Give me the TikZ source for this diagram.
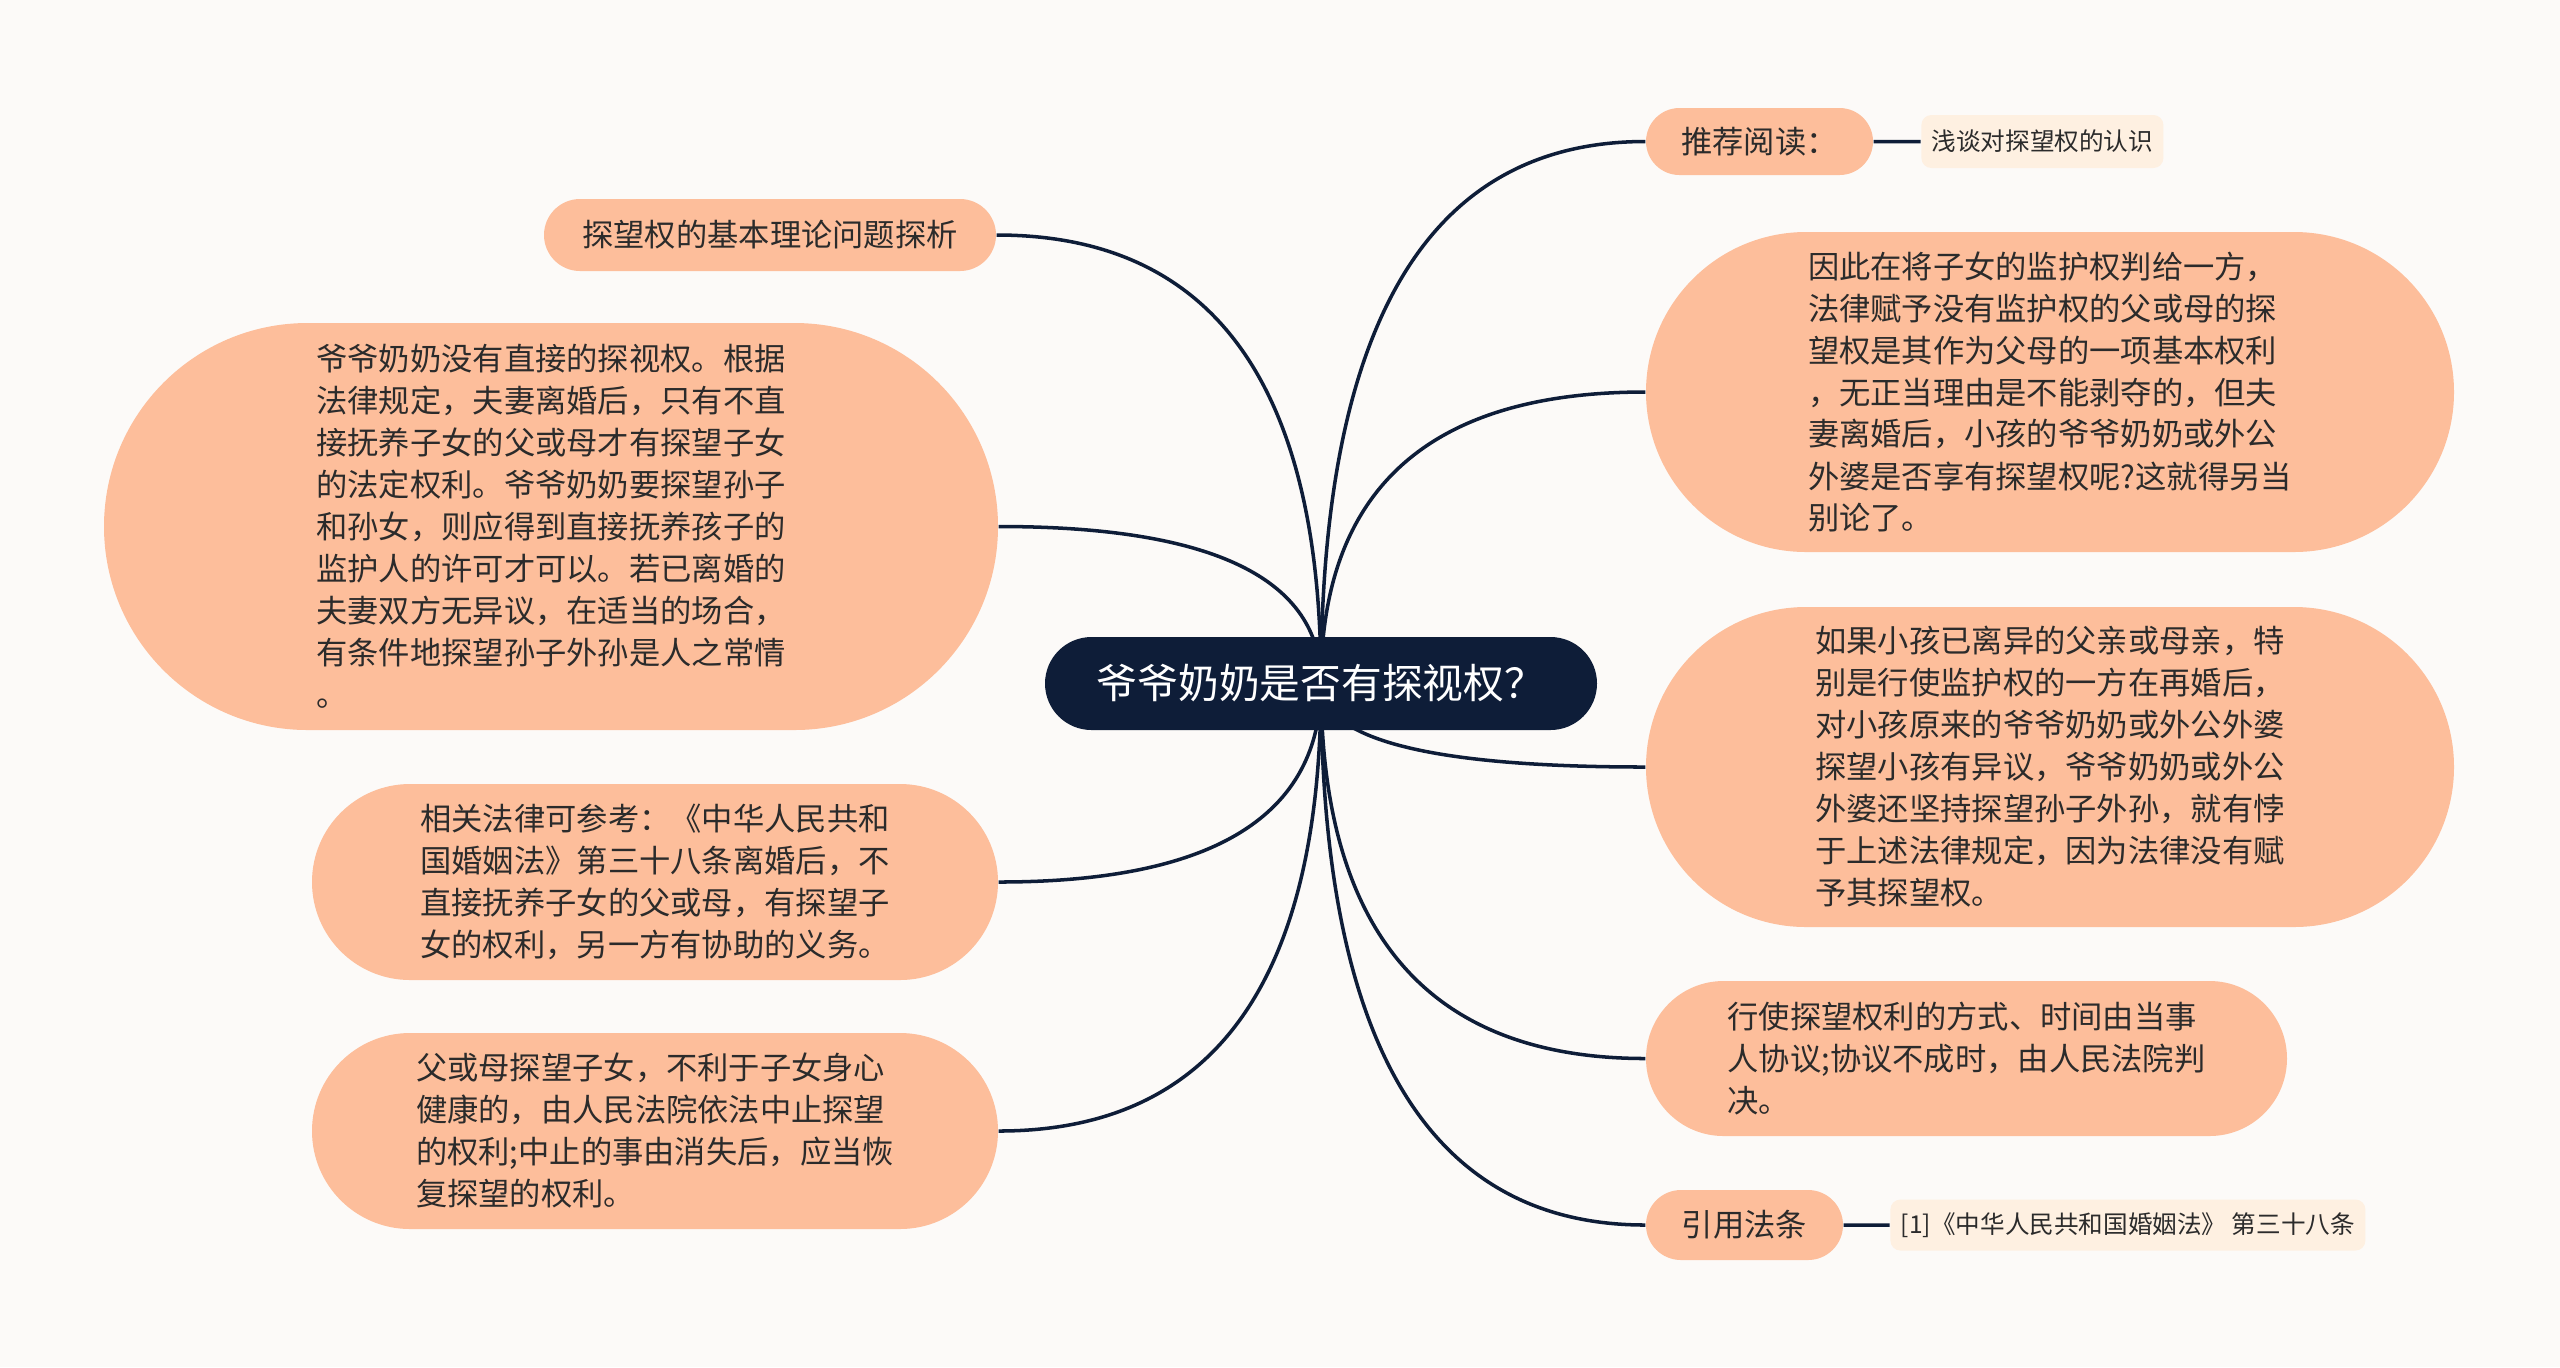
\documentclass[tikz,border=0pt]{standalone}
\usepackage{fontspec}
\usepackage{xcolor}
\usepackage{tikz}
\usetikzlibrary{positioning}
\usetikzlibrary{shapes.misc}
\usetikzlibrary{backgrounds}
\usetikzlibrary{calc}
\newfontfamily\cjk{Noto Sans CJK SC}
\definecolor{peach}{HTML}{FDBE9B}
\definecolor{cream}{HTML}{FEF0E1}
\definecolor{navy}{HTML}{0E1D38}
\definecolor{ink}{HTML}{2B2B2B}
\definecolor{paper}{HTML}{FCFAF8}
\tikzset{
    rootbox/.style={ % Central topic
        rounded rectangle,
        fill=navy,
        text=white,
        inner sep=0pt,
        font=\cjk\fontsize{11.6}{14}\selectfont
    },
    topicbox/.style={ % Sets the properties for each branch topic
        rounded rectangle,
        fill=peach,
        text=ink,
        align=left,
        inner sep=0pt,
        font=\cjk\fontsize{8.9}{11.95}\selectfont
    },
    leafbox/.style={ % Small notes hanging off a topic
        rectangle,
        rounded corners=0.1cm,
        fill=cream,
        text=ink,
        inner sep=0pt,
        font=\cjk\fontsize{7}{9}\selectfont
    },
    branch/.style={ % Connectors
        draw=navy,
        line width=1pt
    }
}
\begin{document}
\begin{tikzpicture}
    \useasboundingbox (0,0) rectangle (25.6,-13.67);

    \node[rootbox, minimum width=5.52cm, minimum height=0.93cm] (c0) at (13.21,-6.835) {爷爷奶奶是否有探视权？};

    % right side
    \node[topicbox, minimum width=2.27cm, minimum height=0.67cm] (r1) at (17.595,-1.415) {推荐阅读：};
    \node[leafbox, minimum width=2.42cm, minimum height=0.53cm, right=0.47cm of r1] (t1) {浅谈对探望权的认识};
    \node[topicbox, minimum width=8.08cm, minimum height=3.2cm] (r2) at (20.5,-3.92) {因此在将子女的监护权判给一方，\\法律赋予没有监护权的父或母的探\\望权是其作为父母的一项基本权利\\，无正当理由是不能剥夺的，但夫\\妻离婚后，小孩的爷爷奶奶或外公\\外婆是否享有探望权呢?这就得另当\\别论了。};
    \node[topicbox, minimum width=8.08cm, minimum height=3.2cm] (r3) at (20.5,-7.67) {如果小孩已离异的父亲或母亲，特\\别是行使监护权的一方在再婚后，\\对小孩原来的爷爷奶奶或外公外婆\\探望小孩有异议，爷爷奶奶或外公\\外婆还坚持探望孙子外孙，就有悖\\于上述法律规定，因为法律没有赋\\予其探望权。};
    \node[topicbox, minimum width=6.41cm, minimum height=1.55cm] (r4) at (19.665,-10.585) {行使探望权利的方式、时间由当事\\人协议;协议不成时，由人民法院判\\决。};
    \node[topicbox, minimum width=1.97cm, minimum height=0.7cm] (r5) at (17.445,-12.25) {引用法条};
    \node[leafbox, minimum width=4.75cm, minimum height=0.51cm, right=0.46cm of r5] (t2) {[1]《中华人民共和国婚姻法》 第三十八条};

    % left side
    \node[topicbox, minimum width=4.52cm, minimum height=0.72cm] (l1) at (7.7,-2.35) {探望权的基本理论问题探析};
    \node[topicbox, minimum width=8.94cm, minimum height=4.07cm] (l2) at (5.51,-5.265) {爷爷奶奶没有直接的探视权。根据\\法律规定，夫妻离婚后，只有不直\\接抚养子女的父或母才有探望子女\\的法定权利。爷爷奶奶要探望孙子\\和孙女，则应得到直接抚养孩子的\\监护人的许可才可以。若已离婚的\\夫妻双方无异议，在适当的场合，\\有条件地探望孙子外孙是人之常情\\。};
    \node[topicbox, minimum width=6.86cm, minimum height=1.96cm] (l3) at (6.55,-8.82) {相关法律可参考：《中华人民共和\\国婚姻法》第三十八条离婚后，不\\直接抚养子女的父或母，有探望子\\女的权利，另一方有协助的义务。};
    \node[topicbox, minimum width=6.86cm, minimum height=1.96cm] (l4) at (6.55,-11.31) {父或母探望子女，不利于子女身心\\健康的，由人民法院依法中止探望\\的权利;中止的事由消失后，应当恢\\复探望的权利。};

    \begin{scope}[on background layer]
        \fill[paper] (0,0) rectangle (25.6,-13.67);
        % quadratic curves from the centre, corner point below/above the centre
        \draw[branch] (c0.center) .. controls ($(c0.center)!2/3!(c0.center |- r1.west)$) and ($(r1.west)!2/3!(c0.center |- r1.west)$) .. (r1.west);
        \draw[branch] (c0.center) .. controls ($(c0.center)!2/3!(c0.center |- r2.west)$) and ($(r2.west)!2/3!(c0.center |- r2.west)$) .. (r2.west);
        \draw[branch] (c0.center) .. controls ($(c0.center)!2/3!(c0.center |- r3.west)$) and ($(r3.west)!2/3!(c0.center |- r3.west)$) .. (r3.west);
        \draw[branch] (c0.center) .. controls ($(c0.center)!2/3!(c0.center |- r4.west)$) and ($(r4.west)!2/3!(c0.center |- r4.west)$) .. (r4.west);
        \draw[branch] (c0.center) .. controls ($(c0.center)!2/3!(c0.center |- r5.west)$) and ($(r5.west)!2/3!(c0.center |- r5.west)$) .. (r5.west);
        \draw[branch] (c0.center) .. controls ($(c0.center)!2/3!(c0.center |- l1.east)$) and ($(l1.east)!2/3!(c0.center |- l1.east)$) .. (l1.east);
        \draw[branch] (c0.center) .. controls ($(c0.center)!2/3!(c0.center |- l2.east)$) and ($(l2.east)!2/3!(c0.center |- l2.east)$) .. (l2.east);
        \draw[branch] (c0.center) .. controls ($(c0.center)!2/3!(c0.center |- l3.east)$) and ($(l3.east)!2/3!(c0.center |- l3.east)$) .. (l3.east);
        \draw[branch] (c0.center) .. controls ($(c0.center)!2/3!(c0.center |- l4.east)$) and ($(l4.east)!2/3!(c0.center |- l4.east)$) .. (l4.east);
        \draw[branch] (r1) -- (t1);
        \draw[branch] (r5) -- (t2);
    \end{scope}
\end{tikzpicture}
\end{document}
